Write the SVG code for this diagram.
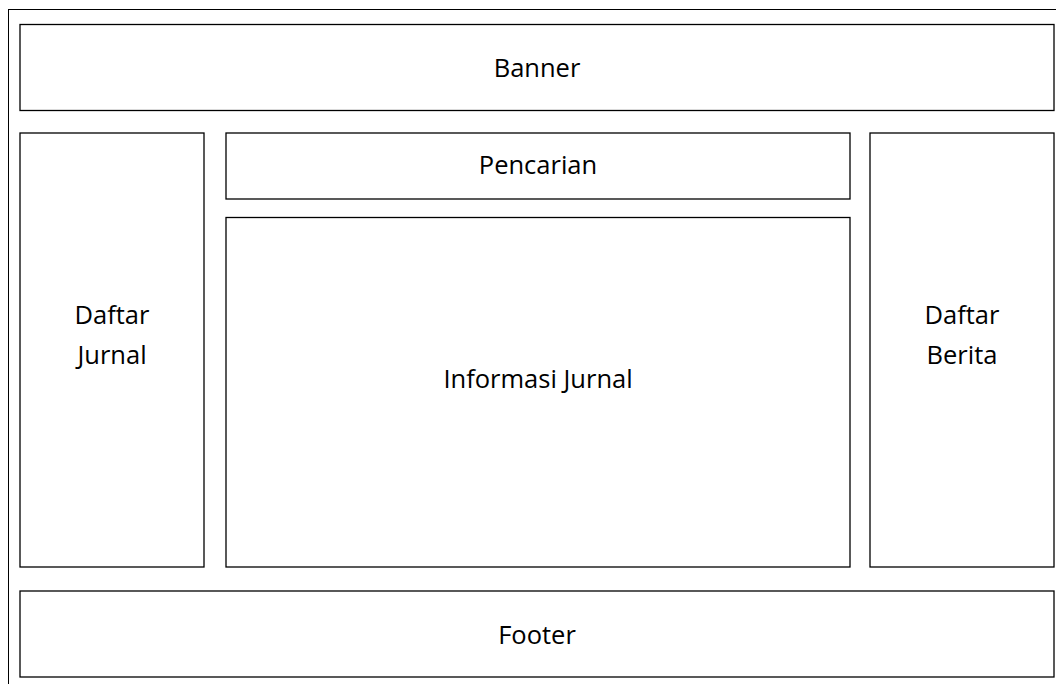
<svg xmlns="http://www.w3.org/2000/svg" width="1056" height="684" viewBox="0 0 1056 684">
  <style>
    .box { fill: #ffffff; stroke: #000000; stroke-width: 1.3; }
    .frame { fill: none; stroke: #000000; stroke-width: 1; }
    .label { font-family: "Open Sans", "Liberation Sans", sans-serif; font-size: 25.5px; fill: #000000; text-anchor: middle; }
  </style>
  <rect width="1056" height="684" fill="#ffffff"/>
  <!-- page frame -->
  <rect class="frame" x="8.5" y="9.5" width="1060" height="690"/>

  <g id="banner">
    <rect class="box" x="20" y="24.5" width="1034" height="86"/>
    <text class="label" x="537" y="77">Banner</text>
  </g>
  <g id="daftar-jurnal">
    <rect class="box" x="20" y="133" width="184" height="434"/>
    <text class="label" x="112" y="324">Daftar</text>
    <text class="label" x="112" y="364">Jurnal</text>
  </g>
  <g id="pencarian">
    <rect class="box" x="226" y="133" width="624" height="66"/>
    <text class="label" x="538" y="174">Pencarian</text>
  </g>
  <g id="informasi-jurnal">
    <rect class="box" x="226" y="217.5" width="624" height="349.5"/>
    <text class="label" x="538" y="388">Informasi Jurnal</text>
  </g>
  <g id="daftar-berita">
    <rect class="box" x="870" y="133" width="184" height="434"/>
    <text class="label" x="962" y="324">Daftar</text>
    <text class="label" x="962" y="364">Berita</text>
  </g>
  <g id="footer">
    <rect class="box" x="20" y="591" width="1034" height="86"/>
    <text class="label" x="537" y="644">Footer</text>
  </g>
  <g id="connectors"/>
</svg>
